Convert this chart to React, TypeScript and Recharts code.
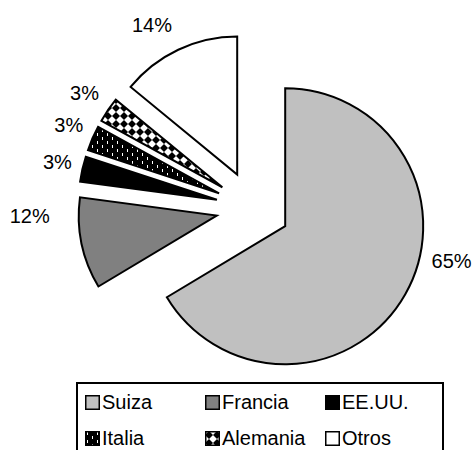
import React from "react";
import { PieChart, Pie, Cell, Sector } from "recharts";

const FONT = "Arial, 'Liberation Sans', sans-serif";
const RAD = Math.PI / 180;

// share of each country
const countries = ["Suiza", "Francia", "EE.UU.", "Italia", "Alemania", "Otros"];
const shares = [66.4, 10.7, 2.95, 2.95, 2.95, 14.05];
const labelTexts = ["65%", "12%", "3%", "3%", "3%", "14%"];

const FILLS = [
  "#C0C0C0",
  "#808080",
  "#000000",
  "url(#patItalia)",
  "url(#patAlemania)",
  "#FFFFFF",
];

// where Excel put each percentage label (angle / distance from the slice tip)
const LABEL_ANGLE = [-11.8, 180, 166.6, 155.6, 145.6, 119.7];
const LABEL_RADIUS = [170, 187, 164, 165, 167, 172];

const EXPLODE = 37;

const chartData = countries.map((name, i) => ({ name, value: shares[i] }));

const shift = (midAngle: number) => ({
  dx: EXPLODE * Math.cos(-midAngle * RAD),
  dy: EXPLODE * Math.sin(-midAngle * RAD),
});

const ExplodedSlice = (props: any) => {
  const { dx, dy } = shift(props.midAngle);
  return <Sector {...props} cx={props.cx + dx} cy={props.cy + dy} />;
};

const renderLabel = (props: any) => {
  const { cx, cy, midAngle, index } = props;
  const { dx, dy } = shift(midAngle);
  const a = LABEL_ANGLE[index] * RAD;
  const r = LABEL_RADIUS[index];
  const x = cx + dx + r * Math.cos(-a);
  const y = cy + dy + r * Math.sin(-a);
  return (
    <text
      x={x}
      y={y + 7.2}
      textAnchor="middle"
      fill="#000"
      fontSize={20}
      fontFamily={FONT}
    >
      {labelTexts[index]}
    </text>
  );
};

const App = () => {
  return (
    <div
      style={{
        position: "absolute",
        left: 0,
        top: 0,
        width: 474,
        height: 450,
        background: "#fff",
        overflow: "hidden",
      }}
    >
      <PieChart
        width={474}
        height={450}
        margin={{ top: 0, right: 0, bottom: 0, left: 0 }}
      >
        <defs>
          <pattern
            id="patItalia"
            width={10}
            height={8}
            patternUnits="userSpaceOnUse"
          >
            <rect width={10} height={8} fill="#000" />
            <rect x={2} y={1} width={1} height={3} fill="#fff" />
            <rect x={7} y={5} width={1} height={3} fill="#fff" />
          </pattern>
          <pattern
            id="patAlemania"
            width={8}
            height={8}
            patternUnits="userSpaceOnUse"
          >
            <rect width={8} height={8} fill="#fff" />
            <polygon points="4,0 8,4 4,8 0,4" fill="#000" />
          </pattern>
        </defs>
        <Pie
          data={chartData}
          dataKey="value"
          nameKey="name"
          cx={253}
          cy={208}
          outerRadius={138}
          startAngle={90}
          endAngle={-270}
          stroke="#000"
          strokeWidth={2}
          shape={ExplodedSlice}
          label={renderLabel}
          labelLine={false}
          isAnimationActive={false}
        >
          {chartData.map((d, i) => (
            <Cell key={d.name} fill={FILLS[i]} stroke="#000" strokeWidth={2} />
          ))}
        </Pie>
      </PieChart>

      {/* legend */}
      <div
        style={{
          position: "absolute",
          left: 76,
          top: 382,
          width: 368,
          height: 90,
          border: "2px solid #000",
          boxSizing: "border-box",
          fontFamily: FONT,
          fontSize: 20,
        }}
      >
        {countries.map((name, i) => {
          const col = i % 3;
          const row = Math.floor(i / 3);
          return (
            <div
              key={name}
              style={{
                position: "absolute",
                left: 7 + col * 120,
                top: 7 + row * 36,
                display: "flex",
                alignItems: "center",
                height: 22,
                whiteSpace: "nowrap",
              }}
            >
              <svg width={15} height={15} style={{ marginRight: 2 }}>
                <rect
                  x={0.75}
                  y={0.75}
                  width={13.5}
                  height={13.5}
                  fill={FILLS[i]}
                  stroke="#000"
                  strokeWidth={1.5}
                />
              </svg>
              <span style={{ lineHeight: "22px" }}>{name}</span>
            </div>
          );
        })}
      </div>
    </div>
  );
};

export default App;
